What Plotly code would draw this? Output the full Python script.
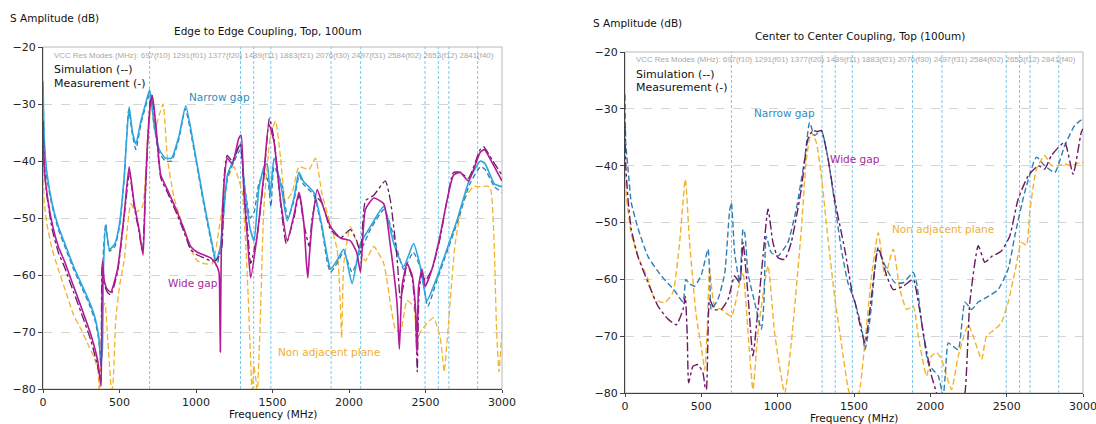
import plotly.graph_objects as go

# ---------------- data ----------------
modes = [697, 1291, 1377, 1489, 1883, 2076, 2497, 2584, 2653, 2841]
mode_names = ["f10", "f01", "f20", "f11", "f21", "f30", "f31", "f02", "f12", "f40"]
x_ticks = [0, 500, 1000, 1500, 2000, 2500, 3000]
y_ticks = [-20, -30, -40, -50, -60, -70, -80]

# Left: Edge to Edge
ng_meas_f = [0, 8, 25, 60, 100, 150, 200, 250, 300, 340, 365, 378, 388, 396, 410, 435, 470, 500, 530, 563, 585, 607, 640, 670, 697, 726, 760, 800, 840, 890, 933, 990, 1050, 1105, 1130, 1160, 1205, 1250, 1290, 1315, 1355, 1380, 1410, 1445, 1465, 1485, 1510, 1560, 1596, 1640, 1673, 1700, 1770, 1820, 1860, 1880, 1920, 1966, 2020, 2075, 2140, 2227, 2293, 2357, 2422, 2466, 2509, 2574, 2640, 2705, 2791, 2860, 2890, 2950, 3000]
ng_meas_db = [-26, -36, -42, -47.5, -51.5, -55, -58.5, -61.5, -64.5, -67.5, -71, -75.5, -73, -58, -51.5, -55.5, -54.5, -51, -43, -30.5, -35, -37, -33, -30, -27.5, -33.5, -38, -39.5, -39.5, -35.5, -30.3, -38, -47, -54.5, -57.5, -55, -42.5, -39.5, -37, -44, -52, -54, -45, -41, -40.5, -46, -39.5, -45, -50.5, -46.5, -42, -43.5, -45.5, -51, -57, -59, -57.5, -55.5, -61.5, -54.5, -51.5, -48, -54.5, -58.5, -54.5, -58.5, -64.5, -60.5, -55.5, -50.5, -43, -40, -40.5, -44, -44.5]

ng_sim_f = [0, 8, 25, 60, 100, 150, 200, 250, 300, 340, 365, 378, 386, 394, 410, 435, 470, 500, 530, 560, 585, 607, 640, 670, 700, 726, 760, 800, 840, 890, 930, 990, 1050, 1105, 1135, 1165, 1205, 1250, 1291, 1320, 1355, 1380, 1410, 1445, 1470, 1490, 1510, 1560, 1600, 1640, 1675, 1700, 1770, 1820, 1860, 1880, 1920, 1966, 2020, 2075, 2140, 2230, 2290, 2357, 2420, 2470, 2515, 2574, 2640, 2705, 2790, 2860, 2890, 2950, 3000]
ng_sim_db = [-27, -37, -43, -48, -52, -55.5, -59, -62, -65, -68, -71.5, -76, -72, -56, -51, -55.8, -55, -51.5, -43.5, -31, -35.5, -38, -33.5, -30.5, -28, -34, -38.5, -40, -40, -36, -30.8, -38.5, -47.5, -55, -58.5, -54, -43, -40, -38, -45, -50, -49, -44, -42, -43.5, -48, -41, -44, -50, -47, -42.5, -44, -46, -51.5, -58, -59.5, -58, -56, -59.5, -56, -52, -48.5, -53, -59, -56, -59, -65.5, -61, -56, -51, -44, -41, -41.5, -44.5, -45.5]

wg_meas_f = [0, 8, 25, 60, 100, 139, 200, 248, 313, 357, 374, 380, 389, 400, 420, 443, 487, 530, 563, 596, 628, 654, 668, 683, 700, 715, 737, 770, 813, 878, 922, 965, 1009, 1052, 1096, 1128, 1150, 1155, 1159, 1165, 1183, 1204, 1237, 1280, 1295, 1313, 1340, 1357, 1400, 1443, 1476, 1509, 1553, 1596, 1640, 1673, 1705, 1722, 1731, 1740, 1759, 1792, 1825, 1879, 1944, 2009, 2050, 2075, 2107, 2162, 2227, 2271, 2314, 2329, 2347, 2379, 2412, 2435, 2444, 2455, 2477, 2498, 2542, 2596, 2640, 2683, 2727, 2781, 2857, 2885, 2940, 3000]
wg_meas_db = [-34, -41, -45.5, -51, -55, -57.5, -62, -65.5, -70.5, -75, -78.5, -79.5, -57.5, -61, -62.5, -63, -59, -49.5, -41, -47.5, -52, -56.5, -46, -37, -30.5, -28.5, -33.5, -42.5, -45, -49, -52, -55, -56, -56.5, -57, -58, -59.5, -65, -73.5, -56, -44, -39.5, -40.5, -36, -35.5, -45.5, -55, -60.5, -53, -42.5, -33.5, -36.5, -47, -54, -49.5, -45.5, -51, -58, -60.5, -57, -51, -45, -47.5, -51.5, -53.5, -54, -56, -59.5, -48.5, -46.5, -47.5, -55, -65, -73, -62, -58, -60, -66, -74, -62, -59, -62, -59, -53, -47, -42.5, -42, -43.5, -38.5, -38, -40.5, -43.5]

wg_sim_f = [0, 8, 25, 60, 100, 139, 200, 248, 313, 357, 372, 378, 386, 400, 420, 443, 487, 530, 565, 596, 628, 650, 668, 683, 700, 712, 737, 770, 813, 878, 922, 965, 1009, 1052, 1096, 1128, 1165, 1183, 1204, 1237, 1290, 1313, 1340, 1357, 1400, 1443, 1480, 1509, 1553, 1590, 1640, 1673, 1705, 1740, 1759, 1792, 1825, 1879, 1944, 2009, 2050, 2075, 2107, 2162, 2237, 2271, 2314, 2335, 2355, 2379, 2412, 2435, 2446, 2458, 2477, 2498, 2542, 2596, 2640, 2683, 2727, 2781, 2857, 2880, 2940, 3000]
wg_sim_db = [-33, -41, -46, -52, -56, -58.5, -63, -66.5, -71.5, -76, -78, -79, -58, -61.5, -63, -63.5, -59.5, -50, -42, -48, -52.5, -56, -46.5, -37.5, -29.5, -28.5, -34, -43, -45.5, -49.5, -52.5, -55.5, -56.5, -57, -57.5, -57.5, -56, -43, -39, -40, -37, -45, -53, -58, -53, -43, -32.5, -36, -47.5, -54.5, -50, -46, -51, -55, -50, -46.5, -47.5, -52, -53.5, -52, -54, -56, -47, -46, -43.5, -47, -57, -64, -62, -58, -60.5, -67, -77, -63, -59.5, -61, -59, -53.5, -47, -42, -42, -43, -38, -37.5, -40, -42.5]

nap_f = [0, 8, 25, 60, 100, 150, 200, 248, 300, 335, 360, 367, 375, 390, 405, 420, 435, 450, 460, 475, 500, 530, 574, 607, 650, 683, 715, 737, 759, 785, 813, 857, 922, 965, 1009, 1052, 1107, 1150, 1183, 1215, 1248, 1270, 1302, 1335, 1357, 1367, 1378, 1390, 1400, 1420, 1443, 1487, 1520, 1553, 1585, 1629, 1673, 1738, 1781, 1825, 1879, 1922, 1940, 1952, 1966, 2009, 2053, 2107, 2162, 2227, 2271, 2303, 2336, 2379, 2422, 2444, 2466, 2509, 2553, 2596, 2610, 2622, 2640, 2694, 2748, 2813, 2857, 2920, 2945, 2965, 2980, 3000]
nap_db = [-40, -47, -51, -55.5, -59, -63, -67, -69.5, -72.5, -74.5, -77, -80.5, -78, -66, -65, -70, -76, -81, -78, -68, -62, -57.5, -47.5, -49, -48, -36, -28.8, -34, -32, -30, -39.5, -46.5, -52, -55.5, -57.5, -58, -58, -52, -46, -42.5, -41, -42.5, -45.5, -60, -75, -81, -76, -78, -81, -68, -48.5, -35.5, -33, -39.5, -47, -45.5, -41, -41.5, -39.5, -46, -51, -55.5, -63, -71, -58, -51.5, -54.5, -57.5, -55, -58, -65, -69.5, -70, -64.5, -65.5, -72, -70, -68.5, -67.5, -71, -74, -77, -72, -54.5, -47, -44.5, -44.5, -44.5, -52, -70, -77, -70]

# Right: Center to Center
ngr_f = [0, 5, 20, 41, 85, 151, 238, 325, 380, 390, 398, 423, 456, 500, 544, 556, 565, 609, 653, 685, 697, 718, 751, 773, 785, 806, 849, 893, 910, 925, 958, 1002, 1067, 1122, 1177, 1209, 1242, 1286, 1330, 1373, 1417, 1460, 1506, 1550, 1572, 1590, 1615, 1655, 1714, 1768, 1823, 1888, 1910, 1943, 1986, 2019, 2052, 2084, 2100, 2117, 2150, 2183, 2227, 2270, 2314, 2379, 2444, 2510, 2553, 2618, 2695, 2749, 2815, 2880, 2946, 2989, 3000]
ngr_db = [-27.5, -36, -40.6, -46.5, -51, -56, -59.4, -62, -64, -62, -60, -60.8, -61.2, -59.2, -54.7, -60, -65.3, -63.5, -59, -48, -46.5, -55.3, -60.5, -51.2, -52, -59, -64, -68.8, -64, -52.4, -55.3, -55.9, -53.5, -47.6, -38.8, -32.4, -34.7, -33.8, -38.8, -46.5, -54.7, -60.6, -64, -68.5, -72.4, -70, -64.5, -54.7, -58.2, -60.6, -60.6, -58.8, -60.6, -67.6, -74.7, -76, -77, -80.5, -76, -71.2, -71.8, -72.4, -64, -65.3, -64, -63, -61.8, -58.2, -52.4, -44.7, -38.5, -40, -41.2, -36.5, -32.9, -32, -32]

wgr_f = [0, 5, 20, 41, 85, 151, 216, 282, 336, 380, 395, 408, 417, 445, 478, 511, 525, 533, 542, 554, 587, 631, 675, 718, 751, 773, 806, 838, 871, 904, 937, 969, 1002, 1046, 1089, 1155, 1198, 1231, 1260, 1286, 1330, 1373, 1439, 1493, 1506, 1572, 1615, 1659, 1714, 1757, 1823, 1888, 1921, 1965, 2008, 2041, 2100, 2180, 2227, 2259, 2314, 2357, 2401, 2466, 2520, 2575, 2641, 2706, 2749, 2793, 2880, 2935, 2989, 3000]
wgr_db = [-33, -40, -46, -51.2, -56, -60.6, -64.7, -67, -68, -65.3, -63, -70, -78.2, -75.3, -75, -76.5, -79, -79.4, -72, -63.5, -65.3, -65.3, -63.5, -59.4, -60.6, -53.5, -62.9, -73.5, -65.3, -55.9, -47.6, -53.5, -56.2, -56.5, -53.5, -44.1, -35.3, -33.8, -34, -33.8, -38.8, -45.9, -54.7, -63, -64, -71.2, -62.9, -54.4, -59.4, -61.8, -61.2, -60, -64, -71.2, -77, -80, -85, -85, -80, -64, -54.1, -57, -56, -55, -52.4, -45.9, -41.8, -40, -40.6, -38.2, -35.9, -41.5, -34.1, -33.5]

napr_f = [0, 5, 20, 41, 85, 151, 194, 260, 314, 358, 395, 423, 467, 500, 522, 540, 554, 587, 631, 697, 751, 773, 806, 838, 871, 937, 980, 1046, 1089, 1155, 1188, 1220, 1253, 1286, 1330, 1373, 1417, 1460, 1480, 1510, 1540, 1572, 1615, 1659, 1703, 1757, 1801, 1845, 1888, 1921, 1975, 2008, 2041, 2073, 2106, 2139, 2183, 2248, 2281, 2336, 2368, 2423, 2466, 2510, 2553, 2597, 2630, 2651, 2695, 2749, 2793, 2836, 2880, 2923, 2989, 3000]
napr_db = [-38, -44, -48, -52, -56, -60, -63.5, -64.1, -62.3, -53.5, -42.4, -53.5, -66.5, -72, -75.9, -68, -58.2, -64.7, -65.3, -66.5, -60.6, -58.8, -69.4, -79.4, -69.4, -57.6, -69.4, -80, -71.2, -51.2, -38.8, -34.1, -35.9, -41.8, -53, -63, -71.2, -79, -81, -82, -79, -71, -59.4, -51.8, -59.4, -54.7, -61.8, -65.3, -64.7, -70, -77, -73.5, -72.9, -74, -77, -79.4, -73.5, -68, -70, -74.1, -70, -68.8, -67.6, -64, -58.8, -53.5, -54, -48.2, -40.6, -38.2, -40, -40, -39.7, -40, -39.4, -39.4]

# ---------------- styling ----------------
W, H = 1096, 424
C_NG_M = "#2aa7df"
C_NG_S = "#2f7fb0"
C_WG_M = "#b21a98"
C_WG_S = "#6a1a62"
C_NAP = "#f4b22a"
C_MODE = "#74c8ee"
FONT = "DejaVu Sans"
VCC_FONT = "Liberation Sans"

def px_x(p):
    return p / W

def px_y(p):
    return 1 - p / H

fig = go.Figure()

def add(xs, ys, color, dash, width, ax):
    fig.add_trace(go.Scatter(x=xs, y=ys, mode="lines", xaxis="x" if ax == 1 else "x2",
                             yaxis="y" if ax == 1 else "y2",
                             line=dict(color=color, dash=dash, width=width,
                                       shape="spline", smoothing=0.5),
                             showlegend=False, hoverinfo="skip"))

add(nap_f, nap_db, C_NAP, "6px,3px", 1.3, 1)
add(ng_sim_f, ng_sim_db, C_NG_S, "5px,3px", 1.3, 1)
add(ng_meas_f, ng_meas_db, C_NG_M, "solid", 1.6, 1)
add(wg_sim_f, wg_sim_db, C_WG_S, "dashdot", 1.3, 1)
add(wg_meas_f, wg_meas_db, C_WG_M, "solid", 1.6, 1)

add(napr_f, napr_db, C_NAP, "6px,3px", 1.4, 2)
add(ngr_f, ngr_db, C_NG_S, "6px,3px", 1.4, 2)
add(wgr_f, wgr_db, C_WG_S, "dashdot", 1.4, 2)

axis_common = dict(range=[0, 3000], tickvals=x_ticks, ticks="outside", ticklen=3,
                   tickcolor="#444", showline=True, linecolor="#444", linewidth=1,
                   showgrid=False, zeroline=False, automargin=False,
                   ticklabeloverflow="allow",
                   tickfont=dict(family=FONT, size=11, color="#222"))
yaxis_common = dict(range=[-80, -20], tickvals=y_ticks, ticks="outside", ticklen=4,
                    tickcolor="#444", showline=True, linecolor="#444", linewidth=1,
                    showgrid=True, gridcolor="#d4d4d4", griddash="dash", gridwidth=1,
                    zeroline=False, automargin=False,
                    tickfont=dict(family=FONT, size=11, color="#222"))

fig.update_layout(
    width=W, height=H, margin=dict(l=0, r=0, t=0, b=0),
    paper_bgcolor="white", plot_bgcolor="white",
    xaxis=dict(domain=[px_x(43), px_x(502)], anchor="y", **axis_common),
    yaxis=dict(domain=[px_y(389), px_y(47)], anchor="x", **yaxis_common),
    xaxis2=dict(domain=[px_x(625), px_x(1083)], anchor="y2", **axis_common),
    yaxis2=dict(domain=[px_y(393), px_y(52)], anchor="x2", **yaxis_common),
)

shapes = []
for xr, yr in [("x", "y"), ("x2", "y2")]:
    for m in modes:
        shapes.append(dict(type="line", xref=xr, yref=yr + " domain", x0=m, x1=m, y0=0, y1=1,
                           line=dict(color=C_MODE, width=1, dash="3px,2px"), layer="below"))
    shapes.append(dict(type="rect", xref=xr + " domain", yref=yr + " domain", x0=0, x1=1, y0=0, y1=1,
                       line=dict(color="#b8b8b8", width=1), layer="below"))
fig.update_layout(shapes=shapes)

vcc_text = "VCC Res Modes (MHz): " + " ".join(f"{m}({n})" for m, n in zip(modes, mode_names))

ann = []
def txt(text, x, y, xref, yref, size, color, xanchor="left", yanchor="middle", family=FONT):
    ann.append(dict(text=text, x=x, y=y, xref=xref, yref=yref, showarrow=False,
                    xanchor=xanchor, yanchor=yanchor,
                    font=dict(family=family, size=size, color=color)))

# Left panel texts
txt("S Amplitude (dB)", px_x(8), px_y(18), "paper", "paper", 10.5, "#111")
txt("Edge to Edge Coupling, Top, 100um", px_x(268), px_y(31), "paper", "paper", 10.5, "#111", "center")
txt("Frequency (MHz)", 0.5, px_y(414), "x domain", "paper", 10.5, "#111", "center")
txt(vcc_text, px_x(52), px_y(55), "paper", "paper", 7.9, "#a8a8a8", family=VCC_FONT)
txt("Simulation (--)", px_x(52), px_y(69), "paper", "paper", 11, "#111")
txt("Measurement (-)", px_x(52), px_y(83), "paper", "paper", 11, "#111")
txt("Narrow gap", 941, -28.8, "x", "y", 10.5, "#2f8cbf")
txt("Wide gap", 804, -61.4, "x", "y", 10.5, "#a8289a")
txt("Non adjacent plane", 1523, -73.5, "x", "y", 10.5, "#f0b030")

# Right panel texts
txt("S Amplitude (dB)", px_x(591), px_y(23), "paper", "paper", 10.5, "#111")
txt("Center to Center Coupling, Top (100um)", px_x(860), px_y(36), "paper", "paper", 10.5, "#111", "center")
txt("Frequency (MHz)", 0.5, px_y(418), "x2 domain", "paper", 10.5, "#111", "center")
txt(vcc_text, px_x(634), px_y(60), "paper", "paper", 7.9, "#a8a8a8", family=VCC_FONT)
txt("Simulation (--)", px_x(634), px_y(74), "paper", "paper", 11, "#111")
txt("Measurement (-)", px_x(634), px_y(88), "paper", "paper", 11, "#111")
txt("Narrow gap", 832, -30.7, "x2", "y2", 10.5, "#2f8cbf")
txt("Wide gap", 1330, -38.8, "x2", "y2", 10.5, "#a8289a")
txt("Non adjacent plane", 1736, -51.2, "x2", "y2", 10.5, "#f0b030")

fig.update_layout(annotations=ann)

fig.write_html("out.html")
